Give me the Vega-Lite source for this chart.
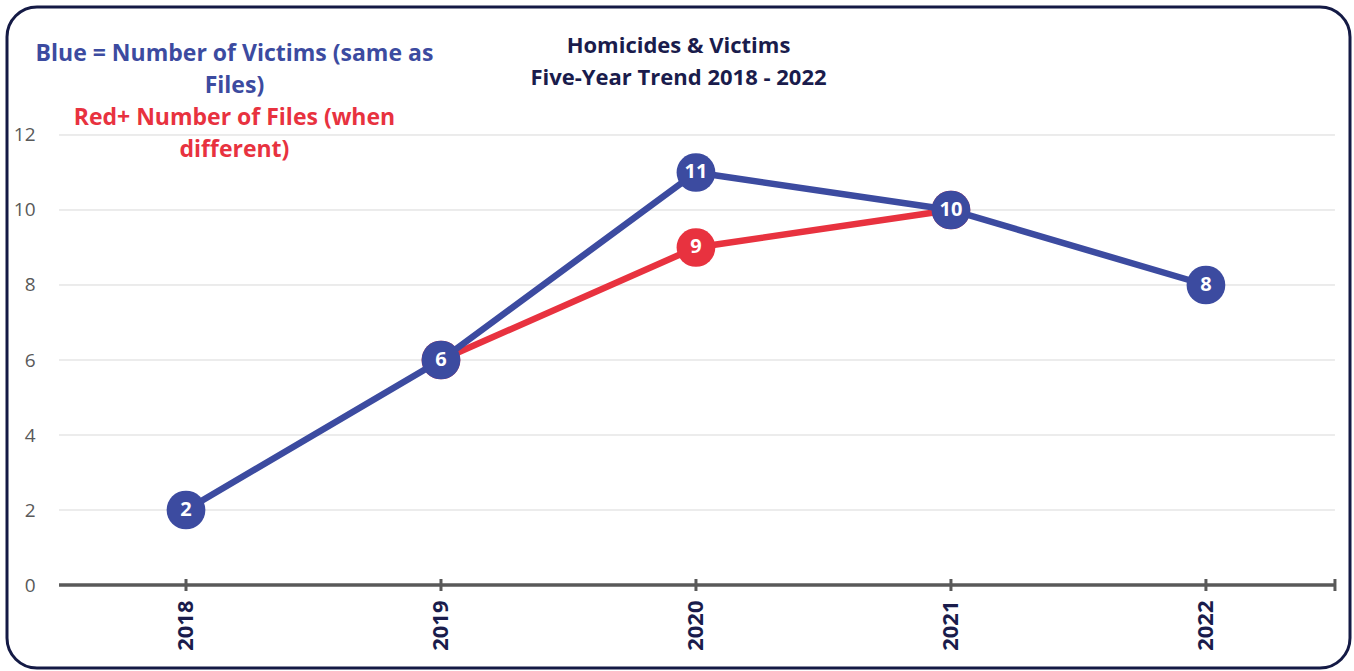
{
  "$schema": "https://vega.github.io/schema/vega-lite/v6.json",
  "autosize": {"type": "none"},
  "width": 1343,
  "height": 661,
  "padding": {"left": 7, "top": 7, "right": 4, "bottom": 3},
  "background": "white",
  "title": {
    "text": ["Homicides & Victims", "Five-Year Trend 2018 - 2022"],
    "font": "Open Sans",
    "fontSize": 22,
    "fontWeight": "bold",
    "color": "#1a1c4c",
    "lineHeight": 32,
    "anchor": "middle",
    "offset": -83
  },
  "config": {
    "view": {"stroke": "#141a45", "strokeWidth": 3, "cornerRadius": 30},
    "font": "Open Sans"
  },
  "datasets": {
    "victims": [
      {"year": 2018, "value": 2},
      {"year": 2019, "value": 6},
      {"year": 2020, "value": 11},
      {"year": 2021, "value": 10},
      {"year": 2022, "value": 8}
    ],
    "files": [
      {"year": 2019, "value": 6},
      {"year": 2020, "value": 9},
      {"year": 2021, "value": 10}
    ],
    "grid": [{"v": 2}, {"v": 4}, {"v": 6}, {"v": 8}, {"v": 10}, {"v": 12}],
    "ticks": [{"year": 2018}, {"year": 2019}, {"year": 2020}, {"year": 2021}, {"year": 2022}, {"year": 2022.506}],
    "notes": [
      {"text": "Blue = Number of Victims (same as\nFiles)", "kind": "blue", "x": 2018.19, "y": 14.17},
      {"text": "Red+ Number of Files (when\ndifferent)", "kind": "red", "x": 2018.19, "y": 12.45}
    ]
  },
  "layer": [
    {
      "data": {"name": "grid"},
      "mark": {"type": "rule", "color": "#d9d9d9", "strokeWidth": 1},
      "encoding": {
        "y": {"field": "v", "type": "quantitative",
          "scale": {"domain": [-2.213, 15.413], "nice": false, "zero": false},
          "axis": {"orient": "left", "offset": -28, "values": [0, 2, 4, 6, 8, 10, 12], "domain": false, "ticks": false, "grid": false, "labelPadding": 0, "labelFontSize": 19, "labelColor": "#595959", "labelFont": "Open Sans", "title": null}},
        "x": {"datum": 2017.502, "type": "quantitative",
          "scale": {"domain": [2017.298, 2022.565], "nice": false, "zero": false},
          "axis": {"orient": "bottom", "offset": -83, "values": [2018, 2019, 2020, 2021, 2022], "format": "d", "labelAngle": -90, "domain": false, "ticks": false, "grid": false, "labelPadding": 15, "labelFontSize": 22, "labelFontWeight": "bold", "labelColor": "#1a1c4c", "labelFont": "Open Sans", "title": null}},
        "x2": {"datum": 2022.506}
      }
    },
    {
      "data": {"values": [{"v": 0}]},
      "mark": {"type": "rule", "color": "#595959", "strokeWidth": 3.5},
      "encoding": {
        "y": {"field": "v", "type": "quantitative"},
        "x": {"datum": 2017.502, "type": "quantitative"},
        "x2": {"datum": 2022.506}
      }
    },
    {
      "data": {"name": "ticks"},
      "mark": {"type": "rule", "color": "#595959", "strokeWidth": 3},
      "encoding": {
        "x": {"field": "year", "type": "quantitative"},
        "y": {"datum": -0.16, "type": "quantitative"},
        "y2": {"datum": 0.16}
      }
    },
    {
      "data": {"name": "files"},
      "mark": {"type": "line", "color": "#e8323f", "strokeWidth": 6.5},
      "encoding": {
        "x": {"field": "year", "type": "quantitative"},
        "y": {"field": "value", "type": "quantitative"}
      }
    },
    {
      "data": {"name": "files"},
      "mark": {"type": "point", "shape": "circle", "filled": true, "opacity": 1, "color": "#e8323f", "size": 1500},
      "encoding": {
        "x": {"field": "year", "type": "quantitative"},
        "y": {"field": "value", "type": "quantitative"}
      }
    },
    {
      "data": {"name": "files"},
      "mark": {"type": "text", "color": "white", "fontWeight": "bold", "fontSize": 20, "font": "Open Sans", "baseline": "middle", "align": "center"},
      "encoding": {
        "x": {"field": "year", "type": "quantitative"},
        "y": {"field": "value", "type": "quantitative"},
        "text": {"field": "value", "type": "quantitative"}
      }
    },
    {
      "data": {"name": "victims"},
      "mark": {"type": "line", "color": "#3c4ba0", "strokeWidth": 6.5},
      "encoding": {
        "x": {"field": "year", "type": "quantitative"},
        "y": {"field": "value", "type": "quantitative"}
      }
    },
    {
      "data": {"name": "victims"},
      "mark": {"type": "point", "shape": "circle", "filled": true, "opacity": 1, "color": "#3c4ba0", "size": 1500},
      "encoding": {
        "x": {"field": "year", "type": "quantitative"},
        "y": {"field": "value", "type": "quantitative"}
      }
    },
    {
      "data": {"name": "victims"},
      "mark": {"type": "text", "color": "white", "fontWeight": "bold", "fontSize": 20, "font": "Open Sans", "baseline": "middle", "align": "center"},
      "encoding": {
        "x": {"field": "year", "type": "quantitative"},
        "y": {"field": "value", "type": "quantitative"},
        "text": {"field": "value", "type": "quantitative"}
      }
    },
    {
      "data": {"name": "notes"},
      "mark": {"type": "text", "fontWeight": "bold", "fontSize": 23, "font": "Open Sans", "baseline": "middle", "align": "center", "lineBreak": "\n", "lineHeight": 32},
      "encoding": {
        "x": {"field": "x", "type": "quantitative"},
        "y": {"field": "y", "type": "quantitative"},
        "text": {"field": "text", "type": "nominal"},
        "color": {"field": "kind", "type": "nominal", "scale": {"domain": ["blue", "red"], "range": ["#3c4ba0", "#e8323f"]}, "legend": null}
      }
    }
  ]
}
